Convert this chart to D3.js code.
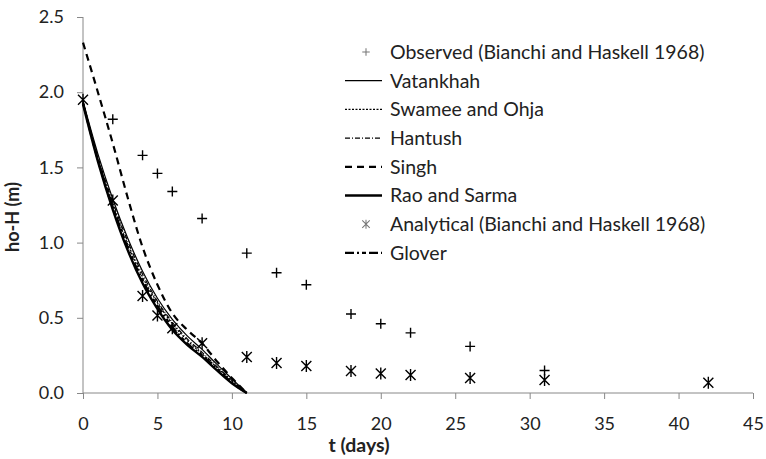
<!DOCTYPE html>
<html>
<head>
<meta charset="utf-8">
<script src="https://cdn.jsdelivr.net/npm/d3@7"></script>
<style>
  body { margin: 0; background: #fff; }
  svg text { font-family: Lato, "Open Sans", sans-serif; fill: #222; }
  .axis path, .axis line { stroke: #888; }
</style>
</head>
<body>
<div id="chart"></div>
<script>
// observed points (plus) and analytical solution (asterisk)
let obsT = [2, 4, 5, 6, 8, 11, 13, 15, 18, 20, 22, 26, 31];
let obsH = [1.82, 1.58, 1.46, 1.34, 1.16, 0.93, 0.80, 0.72, 0.525, 0.46, 0.40, 0.31, 0.15];
let anaT = [0, 2, 4, 5, 6, 8, 11, 13, 15, 18, 20, 22, 26, 31, 42];
let anaH = [1.95, 1.28, 0.645, 0.515, 0.43, 0.33, 0.24, 0.20, 0.18, 0.146, 0.13, 0.12, 0.10, 0.086, 0.068];

// model curves, sampled each day
let lineT = [0, 1, 2, 3, 4, 5, 6, 7, 8, 9, 10, 11];
let vatankhah = [1.94, 1.59, 1.29, 1.03, 0.81, 0.63, 0.49, 0.38, 0.29, 0.19, 0.095, 0];
let swamee    = [1.93, 1.56, 1.25, 0.99, 0.77, 0.60, 0.46, 0.35, 0.26, 0.17, 0.08, 0];
let hantush   = [1.94, 1.57, 1.27, 1.01, 0.79, 0.61, 0.47, 0.36, 0.27, 0.175, 0.085, 0];
let singh     = [2.33, 2.00, 1.66, 1.30, 0.97, 0.72, 0.53, 0.42, 0.33, 0.21, 0.10, 0];
let rao       = [1.92, 1.54, 1.22, 0.95, 0.73, 0.56, 0.42, 0.32, 0.24, 0.15, 0.065, 0];
let glover    = [1.93, 1.55, 1.24, 0.97, 0.75, 0.58, 0.44, 0.33, 0.25, 0.16, 0.07, 0];

let xTicks = [0, 5, 10, 15, 20, 25, 30, 35, 40, 45];
let yTicks = [0, 0.5, 1.0, 1.5, 2.0, 2.5];

let series = [
  {name: "Vatankhah", values: vatankhah, width: 1.2, dash: null},
  {name: "Swamee and Ohja", values: swamee, width: 1.2, dash: "2,1.5"},
  {name: "Hantush", values: hantush, width: 1.2, dash: "5,2,1,2"},
  {name: "Singh", values: singh, width: 2.2, dash: "7,5"},
  {name: "Rao and Sarma", values: rao, width: 2.4, dash: null},
  {name: "Glover", values: glover, width: 2.2, dash: "9,3,2,3,4,3"}
];

let margin = {top: 17, right: 13, bottom: 66, left: 83},
    width = 766 - margin.left - margin.right,
    height = 459 - margin.top - margin.bottom;

let x = d3.scaleLinear().domain([0, 45]).range([0, width]);
let y = d3.scaleLinear().domain([0, 2.5]).range([height, 0]);

let svg = d3.select("#chart")
            .append("svg")
            .attr("width", 766)
            .attr("height", 459)
            .append("g")
            .attr("transform", "translate(" + margin.left + "," + margin.top + ")");

svg.append("g")
   .attr("class", "axis")
   .attr("transform", "translate(0," + height + ")")
   .call(d3.axisBottom(x).tickValues(xTicks).tickSize(6).tickPadding(18).tickFormat(d3.format("d")))
   .call(g => g.selectAll("text").style("font-size", "18px").attr("fill", "#222"));

svg.append("g")
   .attr("class", "axis")
   .call(d3.axisLeft(y).tickValues(yTicks).tickSize(6).tickPadding(13).tickFormat(d3.format(".1f")))
   .call(g => g.selectAll("text").style("font-size", "18px").attr("fill", "#222"));

svg.selectAll(".axis path").attr("d", function() {
  return this.parentNode.getAttribute("transform") ? "M0,0H" + width : "M0,0V" + height;
});

let line = d3.line()
             .x(function(d, i) { return x(lineT[i]); })
             .y(function(d) { return y(d); })
             .curve(d3.curveMonotoneX);

series.forEach(function(s) {
  svg.append("path")
     .datum(s.values)
     .attr("fill", "none")
     .attr("stroke", "#000")
     .attr("stroke-width", s.width)
     .attr("stroke-dasharray", s.dash)
     .attr("d", line);
});

let plusPath = "M-5,0H5M0,-5V5";
let starPath = "M-5,-5L5,5M-5,5L5,-5M0,-6V6";

svg.selectAll(".obs")
   .data(obsT)
   .enter().append("path")
   .attr("class", "obs")
   .attr("transform", function(d, i) { return "translate(" + x(d) + "," + y(obsH[i]) + ")"; })
   .attr("d", plusPath)
   .attr("stroke", "#000")
   .attr("stroke-width", 1.4);

svg.selectAll(".ana")
   .data(anaT)
   .enter().append("path")
   .attr("class", "ana")
   .attr("transform", function(d, i) { return "translate(" + x(d) + "," + y(anaH[i]) + ")"; })
   .attr("d", starPath)
   .attr("stroke", "#000")
   .attr("stroke-width", 1.4);

// axis titles
svg.append("text")
   .attr("text-anchor", "middle")
   .attr("x", 359 - margin.left)
   .attr("y", 452 - margin.top)
   .style("font-size", "19.5px")
   .style("font-weight", "bold")
   .text("t (days)");

svg.append("text")
   .attr("text-anchor", "middle")
   .attr("transform", "rotate(-90)")
   .attr("x", -(217 - margin.top))
   .attr("y", 19 - margin.left)
   .style("font-size", "18px")
   .style("font-weight", "bold")
   .text("ho-H (m)");

// legend
let legendItems = [
  {name: "Observed (Bianchi and Haskell 1968)", mark: plusPath},
  series[0], series[1], series[2], series[3], series[4],
  {name: "Analytical (Bianchi and Haskell 1968)", mark: starPath},
  series[5]
];

let legend = svg.append("g").attr("transform", "translate(" + (345 - margin.left) + "," + (52 - margin.top) + ")");

legendItems.forEach(function(d, i) {
  let g = legend.append("g").attr("transform", "translate(0," + (i * 28.7) + ")");
  if (d.mark) {
    g.append("path")
     .attr("transform", "translate(21,0) scale(0.75)")
     .attr("d", d.mark)
     .attr("stroke", "#777")
     .attr("stroke-width", 1.4);
  } else {
    g.append("line")
     .attr("x1", 0).attr("x2", 37)
     .attr("stroke", "#000")
     .attr("stroke-width", d.width)
     .attr("stroke-dasharray", d.dash);
  }
  g.append("text")
   .attr("x", 45)
   .attr("dy", "0.35em")
   .style("font-size", "19.5px")
   .text(d.name);
});
</script>
</body>
</html>
